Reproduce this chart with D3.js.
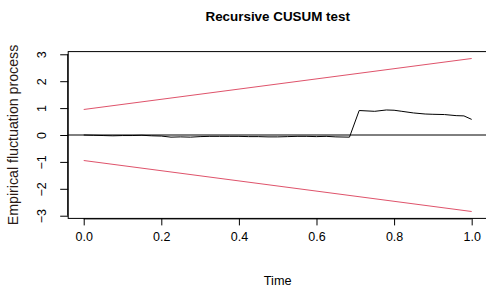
<!DOCTYPE html>
<html>
<head>
<meta charset="utf-8">
<script src="https://cdn.jsdelivr.net/npm/d3@7"></script>
<style>
  body { margin: 0; background: #fff; }
  svg text { font-family: "Liberation Sans", Arial, sans-serif; fill: #000; }
</style>
</head>
<body>
<svg id="chart" width="486" height="288"></svg>
<script>
// recursive CUSUM process
var times = [0, 0.025, 0.05, 0.075, 0.1, 0.125, 0.15, 0.175, 0.2, 0.225,
  0.25, 0.275, 0.3, 0.325, 0.35, 0.375, 0.4, 0.425, 0.45, 0.475,
  0.5, 0.525, 0.55, 0.575, 0.6, 0.625, 0.65, 0.685, 0.71, 0.75,
  0.78, 0.8, 0.82, 0.85, 0.88, 0.9, 0.93, 0.96, 0.98, 1.0];
var process = [0, -0.01, -0.02, -0.03, -0.02, -0.02, -0.01, -0.03, -0.04, -0.08,
  -0.07, -0.08, -0.06, -0.05, -0.05, -0.05, -0.05, -0.06, -0.06, -0.07,
  -0.07, -0.06, -0.05, -0.05, -0.06, -0.05, -0.07, -0.08, 0.91, 0.88,
  0.93, 0.92, 0.88, 0.82, 0.78, 0.77, 0.76, 0.72, 0.71, 0.58];
// boundary 0.948 * (1 + 2t), ends only
var boundaryTimes = [0, 1];
var boundaryUpper = [0.948, 2.844];
var boundaryLower = [-0.948, -2.844];
var xTicks = [0, 0.2, 0.4, 0.6, 0.8, 1.0];
var yTicks = [-3, -2, -1, 0, 1, 2, 3];

var svg = d3.select("#chart");
var red = "#DF536B";

var x = d3.scaleLinear().domain([-0.04, 1.04]).range([68.2, 487.2]);
var y = d3.scaleLinear().domain([-3.1, 3.1]).range([218.4, 51.6]);

var line = d3.line()
  .x(function(d) { return x(d[0]); })
  .y(function(d) { return y(d[1]); });

var drawSeries = function drawSeries(ts, vs, color) {
  svg.append("path")
    .datum(ts.map(function(t, i) { return [t, vs[i]]; }))
    .attr("fill", "none")
    .attr("stroke", color)
    .attr("stroke-width", 1)
    .attr("d", line);
};

// zero line
svg.append("line")
  .attr("x1", x.range()[0]).attr("x2", x.range()[1])
  .attr("y1", y(0)).attr("y2", y(0))
  .attr("stroke", "#000");

drawSeries(boundaryTimes, boundaryUpper, red);
drawSeries(boundaryTimes, boundaryLower, red);
drawSeries(times, process, "#000");

// box
svg.append("rect")
  .attr("x", x.range()[0]).attr("y", y.range()[1])
  .attr("width", x.range()[1] - x.range()[0])
  .attr("height", y.range()[0] - y.range()[1])
  .attr("fill", "none")
  .attr("stroke", "#000");

var xAxis = svg.append("g")
  .attr("transform", "translate(0," + y.range()[0] + ")")
  .call(d3.axisBottom(x).tickValues(xTicks).tickSize(7).tickPadding(7)
    .tickFormat(d3.format(".1f")));
xAxis.select(".domain").attr("d", "M" + x(0) + ",0.5H" + x(1));
xAxis.selectAll("text").style("font-size", "12.5px");

var yAxis = svg.append("g")
  .attr("transform", "translate(" + x.range()[0] + ",0)")
  .call(d3.axisLeft(y).tickValues(yTicks).tickSize(8).tickFormat(d3.format("d")));
yAxis.select(".domain").attr("d", "M-0.5," + y(-3) + "V" + y(3));
yAxis.selectAll("text")
  .style("font-size", "12.5px")
  .attr("text-anchor", "middle")
  .attr("x", 0).attr("dy", 0)
  .attr("transform", function() { return "translate(-22,0) rotate(-90)"; });

svg.selectAll(".tick line").attr("stroke", "#000");

svg.append("text")
  .attr("x", (x.range()[0] + x.range()[1]) / 2)
  .attr("y", 21)
  .attr("text-anchor", "middle")
  .style("font-size", "13.4px")
  .style("font-weight", "bold")
  .text("Recursive CUSUM test");

svg.append("text")
  .attr("x", (x.range()[0] + x.range()[1]) / 2)
  .attr("y", 285)
  .attr("text-anchor", "middle")
  .style("font-size", "12.7px")
  .text("Time");

svg.append("text")
  .attr("transform", "translate(18," + (y.range()[0] + y.range()[1]) / 2 + ") rotate(-90)")
  .attr("text-anchor", "middle")
  .style("font-size", "14.2px")
  .style("fill", "#2a1a16")
  .text("Empirical fluctuation process");
</script>
</body>
</html>
